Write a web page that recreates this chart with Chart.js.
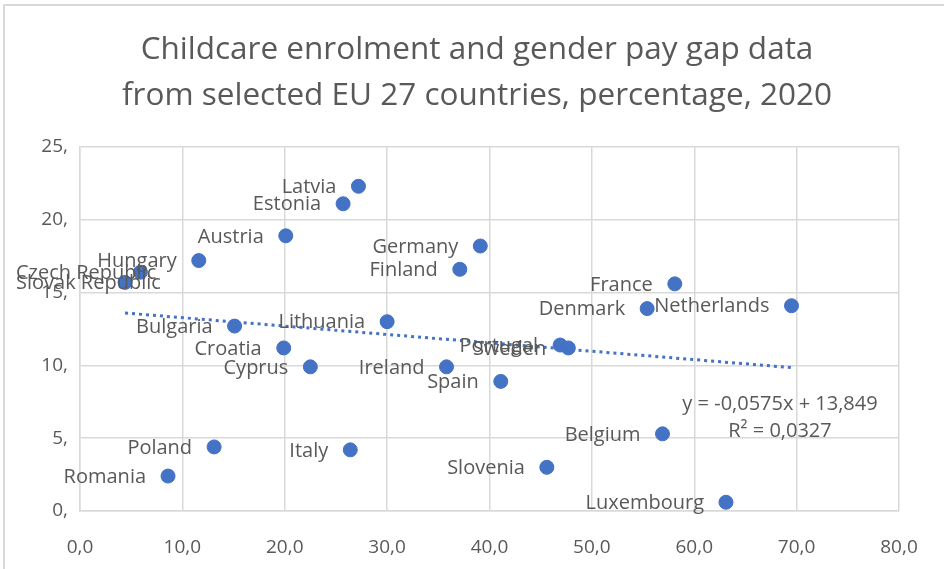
<!DOCTYPE html>
<html>
<head>
<meta charset="utf-8">
<script src="https://cdn.jsdelivr.net/npm/chart.js@4.4.1/dist/chart.umd.min.js"></script>
<style>
  html, body { margin: 0; padding: 0; background: #fff; }
  #wrap { width: 944px; height: 569px; }
</style>
</head>
<body>
<div id="wrap"><canvas id="chart" width="944" height="569"></canvas></div>
<script>
const countries = ['Latvia', 'Estonia', 'Austria', 'Germany', 'Hungary', 'Czech Republic', 'Slovak Republic',
  'Finland', 'France', 'Denmark', 'Netherlands', 'Lithuania', 'Bulgaria', 'Croatia', 'Portugal', 'Sweden',
  'Cyprus', 'Ireland', 'Spain', 'Belgium', 'Poland', 'Italy', 'Slovenia', 'Romania', 'Luxembourg'];
const enrolment = [27.2, 25.7, 20.1, 39.1, 11.6, 5.9, 4.4,
  37.1, 58.1, 55.4, 69.5, 30.0, 15.1, 19.9, 46.9, 47.7,
  22.5, 35.8, 41.1, 56.9, 13.1, 26.4, 45.6, 8.6, 63.1];
const payGap = [22.3, 21.1, 18.9, 18.2, 17.2, 16.4, 15.7,
  16.6, 15.6, 13.9, 14.1, 13.0, 12.7, 11.2, 11.4, 11.2,
  9.9, 9.9, 8.9, 5.3, 4.4, 4.2, 3.0, 2.4, 0.6];
const trendX = [4.4, 69.5];
const trendY = [13.6, 9.85];
const xTickLabels = ['0,0', '10,0', '20,0', '30,0', '40,0', '50,0', '60,0', '70,0', '80,0'];
const yTickLabels = ['0,', '5,', '10,', '15,', '20,', '25,'];
const titleLines = ['Childcare enrolment and gender pay gap data', 'from selected EU 27 countries, percentage, 2020'];
const trendText = ['y = -0,0575x + 13,849', 'R² = 0,0327'];

const grey = '#595959';
const gridGrey = '#d9d9d9';
const blue = '#4472c4';
const font = '"Open Sans", "Noto Sans", sans-serif';

const points = enrolment.map((x, i) => ({ x: x, y: payGap[i] }));
const trend = trendX.map((x, i) => ({ x: x, y: trendY[i] }));

const decorPlugin = {
  id: 'decor',
  beforeDraw(chart) {
    const ctx = chart.ctx;
    ctx.save();
    ctx.fillStyle = '#fff';
    ctx.fillRect(0, 0, chart.width, chart.height);
    ctx.strokeStyle = gridGrey;
    ctx.lineWidth = 2;
    ctx.beginPath();
    ctx.moveTo(4, chart.height);
    ctx.lineTo(4, 5);
    ctx.lineTo(chart.width, 5);
    ctx.stroke();
    ctx.fillStyle = grey;
    ctx.font = '31.5px ' + font;
    ctx.textAlign = 'center';
    ctx.textBaseline = 'middle';
    ctx.fillText(titleLines[0], 477, 50);
    ctx.fillText(titleLines[1], 477, 96);
    ctx.restore();
  },
  afterDatasetsDraw(chart) {
    const ctx = chart.ctx;
    const meta = chart.getDatasetMeta(1);
    ctx.save();
    ctx.fillStyle = grey;
    ctx.font = '20px ' + font;
    ctx.textBaseline = 'middle';
    ctx.textAlign = 'left';
    meta.data.forEach((el, i) => {
      const w = ctx.measureText(countries[i]).width;
      let left = el.x - 22 - w;
      if (left < 16) left = 16;
      ctx.fillText(countries[i], left, el.y + 1);
    });
    ctx.textAlign = 'center';
    ctx.fillText(trendText[0], 780, 404);
    ctx.fillText(trendText[1], 780, 431);
    ctx.restore();
  }
};

new Chart(document.getElementById('chart'), {
  type: 'scatter',
  data: {
    datasets: [
      {
        type: 'line',
        data: trend,
        borderColor: blue,
        borderWidth: 3,
        borderDash: [3, 4],
        pointRadius: 0,
        fill: false
      },
      {
        data: points,
        backgroundColor: blue,
        borderColor: blue,
        pointRadius: 7,
        pointHoverRadius: 7
      }
    ]
  },
  options: {
    responsive: false,
    animation: false,
    layout: { padding: { left: 0, right: 45, top: 147, bottom: 0 } },
    plugins: {
      legend: { display: false },
      title: { display: false },
      tooltip: { enabled: false }
    },
    scales: {
      x: {
        type: 'linear',
        min: 0,
        max: 80,
        afterFit: (scale) => { scale.height = 58; },
        grid: { color: gridGrey, lineWidth: 1.5, drawTicks: false },
        border: { color: gridGrey, width: 1.5 },
        ticks: {
          stepSize: 10,
          padding: 25,
          color: grey,
          font: { family: font, size: 19 },
          callback: (v, i) => xTickLabels[i]
        }
      },
      y: {
        min: 0,
        max: 25,
        afterFit: (scale) => { scale.width = 80; },
        grid: { color: gridGrey, lineWidth: 1.5, drawTicks: false },
        border: { color: gridGrey, width: 1.5 },
        ticks: {
          stepSize: 5,
          padding: 12,
          color: grey,
          font: { family: font, size: 19 },
          callback: (v, i) => yTickLabels[i]
        }
      }
    }
  },
  plugins: [decorPlugin]
});
</script>
</body>
</html>
